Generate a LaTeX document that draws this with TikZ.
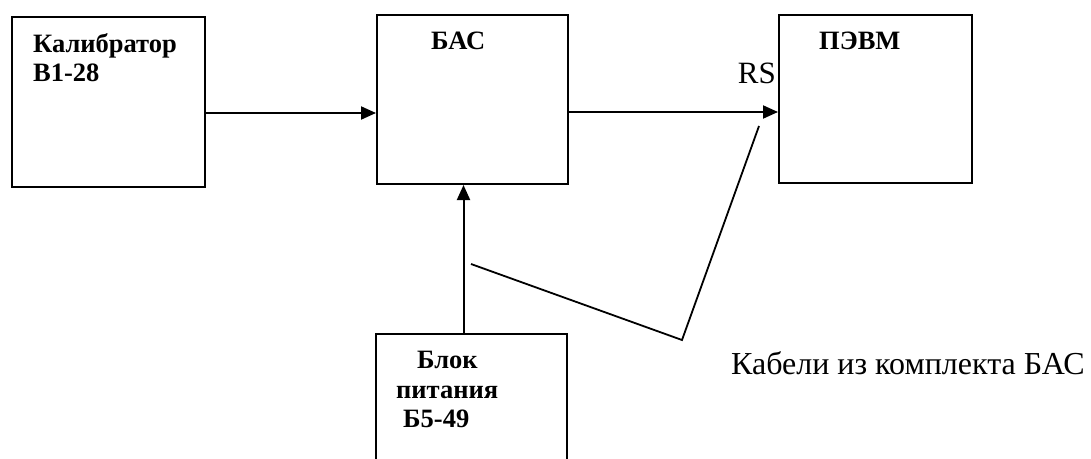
\documentclass[tikz,border=0pt]{standalone}
\usepackage{fontspec}
\setmainfont{Liberation Serif}
\usetikzlibrary{arrows.meta}
\tikzset{
  blk/.style={draw=black, line width=2pt, rectangle, inner sep=0pt, anchor=north west},
  lbl/.style={inner sep=0pt, anchor=base west, font=\fontsize{26.5}{30}\selectfont\bfseries},
  arr/.style={line width=2pt, -{Triangle[length=15pt,width=13pt]}},
  cable/.style={line width=1.8pt},
}
\begin{document}
\begin{tikzpicture}[x=1pt,y=-1pt]
\useasboundingbox (0,0) rectangle (1091,458);
\clip (0,0) rectangle (1091,458);
% boxes
\node[blk, minimum width=193pt, minimum height=170pt] (b1) at (11,16) {};
\node[blk, minimum width=191pt, minimum height=169pt] (b2) at (376,14) {};
\node[blk, minimum width=193pt, minimum height=168pt] (b3) at (778,14) {};
\node[blk, minimum width=191pt, minimum height=160pt] (b4) at (375,333) {};
% labels
\node[lbl] (t1a) at (33,52) {Калибратор};
\node[lbl] (t1b) at (33,81) {В1-28};
\node[lbl] (t2) at (431,49) {БАС};
\node[lbl] (t3) at (819,49) {ПЭВМ};
\node[lbl] (t4a) at (417,368) {Блок};
\node[lbl] (t4b) at (396,398) {питания};
\node[lbl] (t4c) at (403,427) {Б5-49};
\node[inner sep=0pt, anchor=base east, font=\fontsize{31}{36}\selectfont] (rs) at (776,83) {RS};
\node[inner sep=0pt, anchor=base west, font=\fontsize{32}{38}\selectfont] (cab) at (731,374) {Кабели из комплекта БАС};
% connectors
\draw[arr] ([yshift=-11pt]b1.east) -- ([yshift=-11pt]b1.east -| b2.west);
\draw[arr] ([yshift=-12.5pt]b2.east) -- ([yshift=-12.5pt]b2.east -| b3.west);
\draw[arr] ([xshift=-8pt]b4.north) -- ([xshift=-8pt]b4.north |- b2.south);
% cable pointer lines
\coordinate (c1) at (471,264);
\coordinate (c2) at (682,340);
\coordinate (c3) at (759,126);
\draw[cable] (c1) -- (c2) -- (c3);
\end{tikzpicture}
\end{document}
